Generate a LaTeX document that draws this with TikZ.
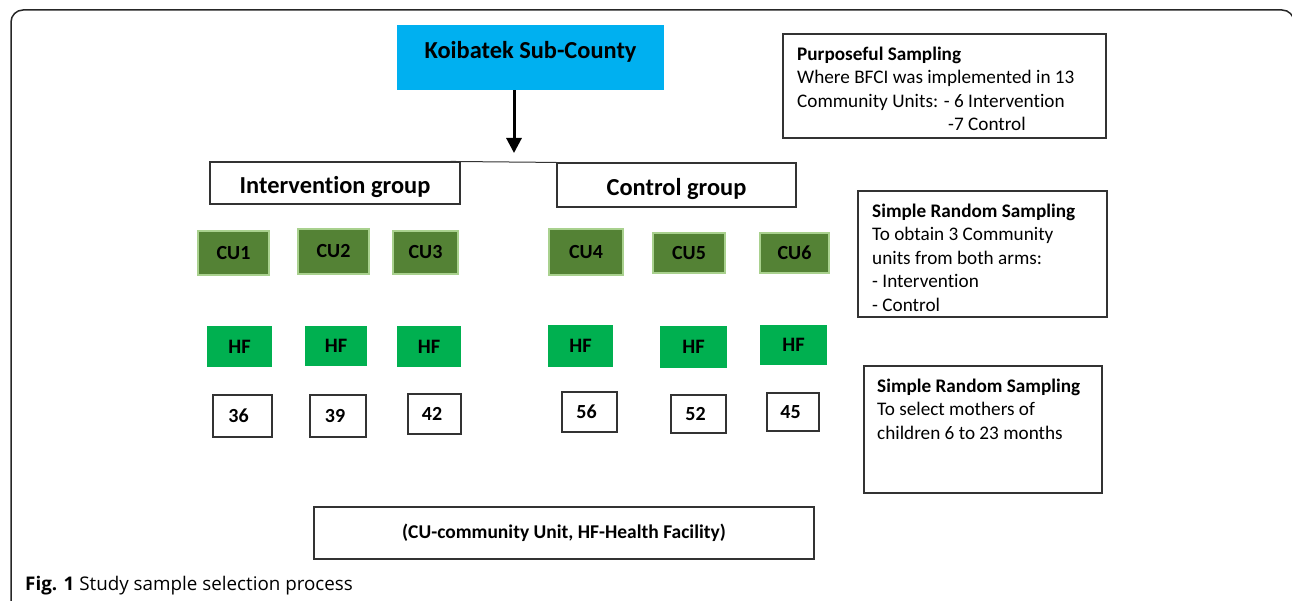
\documentclass[tikz,border=0pt]{standalone}
\usepackage{fontspec}
\setmainfont{Carlito}[Ligatures={NoCommon}]
\newfontfamily\capfont{Open Sans}
\usetikzlibrary{arrows.meta}
\definecolor{cyanbox}{HTML}{00B0F0}
\definecolor{cugreen}{HTML}{548235}
\definecolor{cuborder}{HTML}{A9D18E}
\definecolor{hfgreen}{HTML}{00B050}
\definecolor{linegray}{HTML}{333333}
\tikzset{
  x=1pt, y=-1pt,
  plainbox/.style={draw=linegray, line width=1.1pt, fill=white, inner sep=0pt},
  cubox/.style={draw=cuborder, line width=1.8pt, fill=cugreen, inner sep=0pt,
    font=\fontsize{20}{23}\selectfont\bfseries},
  hfbox/.style={fill=hfgreen, inner sep=0pt, font=\fontsize{20.5}{23}\selectfont\bfseries},
  numbox/.style={plainbox, font=\fontsize{20}{23}\selectfont\bfseries},
  groupbox/.style={plainbox, font=\fontsize{24.4}{27}\selectfont\bfseries},
  notetext/.style={anchor=north west, inner sep=0pt, align=left,
    font=\fontsize{19.2}{23.6}\selectfont},
}
\begin{document}
\begin{tikzpicture}
\useasboundingbox (0,0) rectangle (1292,601);
\begin{scope}
  \clip (0,0) rectangle (1292,601);
  \draw[line width=1.5pt, rounded corners=12pt, draw=black!85] (11,10) rectangle (1294,640);
\end{scope}

% top box
\node[fill=cyanbox, minimum width=267pt, minimum height=65pt, inner sep=0pt] (koib) at (530.5,57.5) {};
\node[inner sep=0pt, font=\fontsize{24.4}{27}\selectfont\bfseries] (koibt) at (530.5,52) {Koibatek Sub-County};
\coordinate (arrend) at (514,153);
\draw[line width=3pt, -{Triangle[length=15pt,width=15pt]}] (koib.south -| arrend) -- (arrend);

% group boxes
\node[groupbox, minimum width=250pt, minimum height=42pt] (interv) at (335,183) {\raisebox{0pt}[\dimexpr\height+9pt\relax]{Intervention group}};
\node[groupbox, minimum width=239pt, minimum height=44pt] (control) at (676.5,185) {\raisebox{0pt}[\dimexpr\height+8pt\relax]{Control group}};
\draw[linegray, line width=1pt] ([xshift=-10pt]interv.north east) -- (control.north west);

% CU boxes
\node[cubox, minimum width=71pt, minimum height=44pt] (cu1) at (233.5,253) {CU1};
\node[cubox, minimum width=71pt, minimum height=45pt] (cu2) at (333.5,251.5) {CU2};
\node[cubox, minimum width=65pt, minimum height=43pt] (cu3) at (425.5,252.5) {CU3};
\node[cubox, minimum width=74pt, minimum height=46pt] (cu4) at (586,252) {CU4};
\node[cubox, minimum width=72pt, minimum height=40pt] (cu5) at (689,253) {CU5};
\node[cubox, minimum width=69pt, minimum height=40pt] (cu6) at (794.5,253) {CU6};

% HF boxes
\node[hfbox, minimum width=65pt, minimum height=41pt] (hf1) at (239.5,346.5) {HF};
\node[hfbox, minimum width=62pt, minimum height=40pt] (hf2) at (336,346) {HF};
\node[hfbox, minimum width=64pt, minimum height=41pt] (hf3) at (429,346.5) {HF};
\node[hfbox, minimum width=65pt, minimum height=42pt] (hf4) at (580.5,346) {HF};
\node[hfbox, minimum width=67pt, minimum height=42pt] (hf5) at (693.5,347) {HF};
\node[hfbox, minimum width=67pt, minimum height=40pt] (hf6) at (793.5,345) {HF};

% number boxes
\node[numbox, minimum width=59pt, minimum height=42pt] (n1) at (242.5,416) {\kern-8pt 36};
\node[numbox, minimum width=56pt, minimum height=42pt] (n2) at (338,416) {\kern-6pt 39};
\node[numbox, minimum width=53pt, minimum height=40pt] (n3) at (434.5,414) {\kern-5pt 42};
\node[numbox, minimum width=55pt, minimum height=40pt] (n4) at (589.5,412) {\kern-6pt 56};
\node[numbox, minimum width=55pt, minimum height=38pt] (n5) at (698.5,414) {\kern-6pt 52};
\node[numbox, minimum width=52pt, minimum height=38pt] (n6) at (793,412) {\kern-5pt 45};

% note boxes
\node[plainbox, minimum width=323pt, minimum height=104pt] (purp) at (944.5,86) {};
\node[notetext] (purpt) at (797,46.5) {\textbf{Purposeful Sampling}\\Where BFCI was implemented in 13\\Community Units: - 6 Intervention\\\hspace*{151pt}-7 Control};

\node[plainbox, minimum width=249pt, minimum height=126pt] (srs1) at (982.5,254) {};
\node[notetext] (srs1t) at (872,203.5) {\textbf{Simple Random Sampling}\\To obtain 3 Community\\units from both arms:\\- Intervention\\- Control};

\node[plainbox, minimum width=238pt, minimum height=127pt] (srs2) at (983,429.5) {};
\node[notetext] (srs2t) at (877,378.5) {\textbf{Simple Random Sampling}\\To select mothers of\\children 6 to 23 months};

% legend box
\node[plainbox, minimum width=500pt, minimum height=52pt, font=\fontsize{19.5}{22}\selectfont\bfseries] (legend) at (564,533) {(CU-community Unit, HF-Health Facility)};

% caption
\node[anchor=west, inner sep=0pt, font=\capfont\fontsize{18.8}{21}\selectfont] (cap) at (25,586) {\textbf{Fig. 1} Study sample selection process};
\end{tikzpicture}
\end{document}
